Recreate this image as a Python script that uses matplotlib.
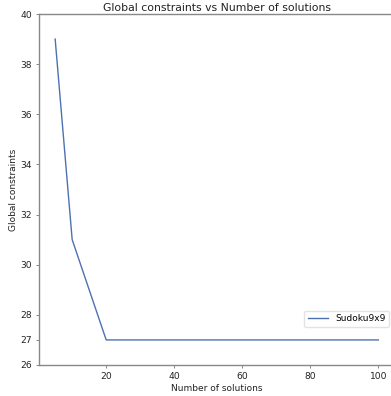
import matplotlib
matplotlib.use("Agg")
import matplotlib.pyplot as plt

# datos
num_soluciones = [5, 10, 20, 30, 40, 50, 60, 70, 80, 90, 100]
restricciones = [39, 31, 27, 27, 27, 27, 27, 27, 27, 27, 27]
yticks = [26, 27, 28, 30, 32, 34, 36, 38, 40]
xticks = [20, 40, 60, 80, 100]

fig = plt.figure(figsize=(3.91, 3.96), dpi=100)
W, H = 391, 396
ax = fig.add_axes([39 / W, (H - 365) / H, (394.5 - 39) / W, (365 - 14) / H])

ax.plot(num_soluciones, restricciones, color='#4c72b0', linewidth=1, label='Sudoku9x9')

ax.set_xlim(0.25, 104.75)
ax.set_ylim(26, 40)
ax.set_yticks(yticks)
ax.set_xticks(xticks)

for s in ['top', 'left', 'bottom']:
    ax.spines[s].set_color('#888888')
    ax.spines[s].set_linewidth(1)
ax.spines['right'].set_visible(False)
ax.tick_params(colors='#888888', labelcolor='#222222', labelsize=6.6, length=2.5, width=0.7, pad=2.5)

ax.set_title('Global constraints vs Number of solutions', fontsize=7.8, color='#222222', pad=2.5)
ax.set_xlabel('Number of solutions', fontsize=6.5, color='#222222', labelpad=2)
ax.set_ylabel('Global constraints', fontsize=6.5, color='#222222', labelpad=1.5)

ax.legend(loc='center right', bbox_to_anchor=(0.985, 0.132), borderaxespad=0, fontsize=6.5,
          frameon=True, handlelength=2.2, edgecolor='#dddddd', fancybox=True)

fig.savefig('out.png', dpi=100)
